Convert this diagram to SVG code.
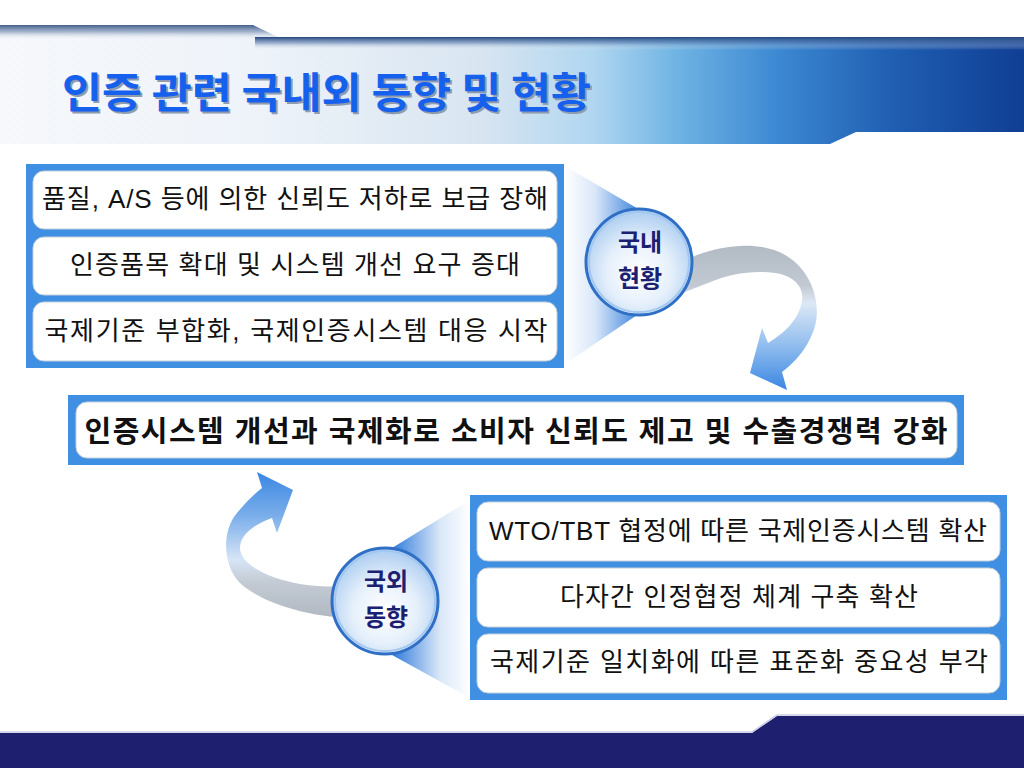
<svg xmlns="http://www.w3.org/2000/svg" width="1024" height="768" viewBox="0 0 1024 768">
<style>
.panel{fill:#3f8fe2}
.box{fill:#ffffff;stroke:#c6cfd9;stroke-width:1}
.t{font-family:"Liberation Sans","Noto Sans CJK KR",sans-serif;font-size:26px;fill:#111111;text-anchor:middle}
.tb{font-family:"Liberation Sans","Noto Sans CJK KR",sans-serif;font-size:29px;font-weight:bold;fill:#111111;text-anchor:middle}
.ct{font-family:"Noto Sans CJK KR",sans-serif;font-size:24px;font-weight:bold;fill:#1b2070;text-anchor:middle}
.ring{stroke:#2f6fc6;stroke-width:3}
.ring2{fill:none;stroke:#a3c8f0;stroke-width:2}
</style>
<defs>
<linearGradient id="gBanner" x1="0" y1="0" x2="1024" y2="0" gradientUnits="userSpaceOnUse">
<stop offset="0" stop-color="#f6f8fb"/>
<stop offset="0.25" stop-color="#eef3f9"/>
<stop offset="0.47" stop-color="#d8e5f1"/>
<stop offset="0.58" stop-color="#b0d6f0"/>
<stop offset="0.66" stop-color="#70b4e4"/>
<stop offset="0.76" stop-color="#3c88d2"/>
<stop offset="0.87" stop-color="#205fb2"/>
<stop offset="1" stop-color="#0f3e94"/>
</linearGradient>
<linearGradient id="gTopL" x1="0" y1="25" x2="0" y2="40" gradientUnits="userSpaceOnUse">
<stop offset="0" stop-color="#435f8c"/>
<stop offset="0.45" stop-color="#8096b8" stop-opacity="0.7"/>
<stop offset="1" stop-color="#ffffff" stop-opacity="0"/>
</linearGradient>
<linearGradient id="gTopR" x1="0" y1="37" x2="0" y2="50" gradientUnits="userSpaceOnUse">
<stop offset="0" stop-color="#23457e"/>
<stop offset="0.45" stop-color="#5b7bab" stop-opacity="0.6"/>
<stop offset="1" stop-color="#ffffff" stop-opacity="0"/>
</linearGradient>
<clipPath id="cBanner">
<polygon points="0,25 253,25 278,37 1024,37 1024,132 856,132 830,144 0,144"/>
</clipPath>
<linearGradient id="gCone1" x1="565" y1="0" x2="640" y2="0" gradientUnits="userSpaceOnUse">
<stop offset="0" stop-color="#ffffff"/>
<stop offset="0.4" stop-color="#d9e7f8"/>
<stop offset="1" stop-color="#3a82dc"/>
</linearGradient>
<linearGradient id="gCone2" x1="470" y1="0" x2="395" y2="0" gradientUnits="userSpaceOnUse">
<stop offset="0" stop-color="#ffffff"/>
<stop offset="0.4" stop-color="#d9e7f8"/>
<stop offset="1" stop-color="#3a82dc"/>
</linearGradient>
<radialGradient id="gCircle" cx="0.5" cy="0.6" r="0.55">
<stop offset="0" stop-color="#ffffff"/>
<stop offset="0.55" stop-color="#e6f0fb"/>
<stop offset="1" stop-color="#b3d1f2"/>
</radialGradient>
<linearGradient id="gArrow1" x1="0" y1="245" x2="0" y2="390" gradientUnits="userSpaceOnUse">
<stop offset="0" stop-color="#b2bac4"/>
<stop offset="0.28" stop-color="#c2c9d2"/>
<stop offset="0.4" stop-color="#dde8f5"/>
<stop offset="0.7" stop-color="#8fbcee"/>
<stop offset="1" stop-color="#3a86e2"/>
</linearGradient>
<linearGradient id="gArrow2" x1="0" y1="472" x2="0" y2="618" gradientUnits="userSpaceOnUse">
<stop offset="0" stop-color="#3a86e2"/>
<stop offset="0.3" stop-color="#7aaeea"/>
<stop offset="0.6" stop-color="#d6e5f6"/>
<stop offset="0.75" stop-color="#c4cbd4"/>
<stop offset="1" stop-color="#b0b8c2"/>
</linearGradient>
</defs>

<rect x="0" y="0" width="1024" height="768" fill="#ffffff"/>

<g id="header">
<polygon points="0,25 253,25 278,37 1024,37 1024,132 856,132 830,144 0,144" fill="url(#gBanner)"/>
<g clip-path="url(#cBanner)">
<rect x="0" y="25" width="280" height="16" fill="url(#gTopL)"/>
<rect x="255" y="37" width="769" height="13" fill="url(#gTopR)"/>
</g>
<text x="64" y="110" font-family="Noto Sans CJK KR, sans-serif" font-size="42" font-weight="bold" fill="#8f9cae" textLength="529" lengthAdjust="spacingAndGlyphs">인증 관련 국내외 동향 및 현황</text>
<text x="62" y="108" font-family="Noto Sans CJK KR, sans-serif" font-size="42" font-weight="bold" fill="#1660ee" textLength="529" lengthAdjust="spacingAndGlyphs">인증 관련 국내외 동향 및 현황</text>
</g>

<g id="footer">
<polygon points="0,733 752,733 777,716 1024,716 1024,768 0,768" fill="#1e1f6e"/>
<polyline points="0,732 752,732 777,715 1024,715" fill="none" stroke="#c7cbe5" stroke-width="1.5"/>
</g>

<g id="node-domestic-list">
<rect class="panel" x="26" y="164" width="538" height="204"/>
<rect class="box" x="33" y="171" width="524" height="58" rx="11"/>
<rect class="box" x="33" y="237" width="524" height="58" rx="11"/>
<rect class="box" x="33" y="302" width="524" height="59" rx="11"/>
<text class="t" x="295" y="208" textLength="506" lengthAdjust="spacing">품질, A/S 등에 의한 신뢰도 저하로 보급 장해</text>
<text class="t" x="295" y="274" textLength="450" lengthAdjust="spacing">인증품목 확대 및 시스템 개선 요구 증대</text>
<text class="t" x="296" y="340" textLength="503" lengthAdjust="spacing">국제기준 부합화, 국제인증시스템 대응 시작</text>
</g>

<g id="node-foreign-list">
<rect class="panel" x="470" y="495" width="537" height="205"/>
<rect class="box" x="477" y="502" width="523" height="59" rx="11"/>
<rect class="box" x="477" y="568" width="523" height="59" rx="11"/>
<rect class="box" x="477" y="634" width="523" height="59" rx="11"/>
<text class="t" x="738" y="540" textLength="498" lengthAdjust="spacing">WTO/TBT 협정에 따른 국제인증시스템 확산</text>
<text class="t" x="739" y="606" textLength="358" lengthAdjust="spacing">다자간 인정협정 체계 구축 확산</text>
<text class="t" x="739" y="671" textLength="498" lengthAdjust="spacing">국제기준 일치화에 따른 표준화 중요성 부각</text>
</g>

<g id="cones">
<polygon points="565,166 640,210 640,313 565,364" fill="url(#gCone1)"/>
<polygon points="470,500 392,548 392,655 470,698" fill="url(#gCone2)"/>
</g>

<g id="connectors">
<path id="arrow-domestic-to-goal" fill="url(#gArrow1)" d="M 680,262 L 697,255 C 730,243 770,240 795,262 C 815,280 822,310 813,332 C 806,350 795,362 782,372 L 787,390 L 750,373 L 762,328 L 768,343 C 785,333 800,318 802,300 C 804,288 795,276 775,273 C 755,270 730,273 708,283 L 685,292 Z"/>
<path id="arrow-foreign-to-goal" fill="url(#gArrow2)" d="M 350,618 C 300,616 258,600 240,583 C 222,565 222,530 237,513 C 245,503 253,495 262,488 L 257,472 L 293,490 L 277,533 L 272,518 C 258,523 240,533 240,548 C 240,562 262,577 300,584 C 320,587 335,587 350,586 Z"/>
</g>

<g id="node-goal">
<rect class="panel" x="68" y="395" width="896" height="70"/>
<rect class="box" x="76" y="402" width="881" height="56" rx="11"/>
<text class="tb" x="516" y="442" textLength="863" lengthAdjust="spacing">인증시스템 개선과 국제화로 소비자 신뢰도 제고 및 수출경쟁력 강화</text>
</g>

<g id="node-domestic">
<circle class="ring" cx="639" cy="262" r="53" fill="url(#gCircle)"/>
<circle class="ring2" cx="639" cy="262" r="50"/>
<text class="ct" x="640" y="251">국내</text>
<text class="ct" x="640" y="287">현황</text>
</g>

<g id="node-foreign">
<circle class="ring" cx="385" cy="601" r="53" fill="url(#gCircle)"/>
<circle class="ring2" cx="385" cy="601" r="50"/>
<text class="ct" x="386" y="590">국외</text>
<text class="ct" x="386" y="626">동향</text>
</g>
</svg>
